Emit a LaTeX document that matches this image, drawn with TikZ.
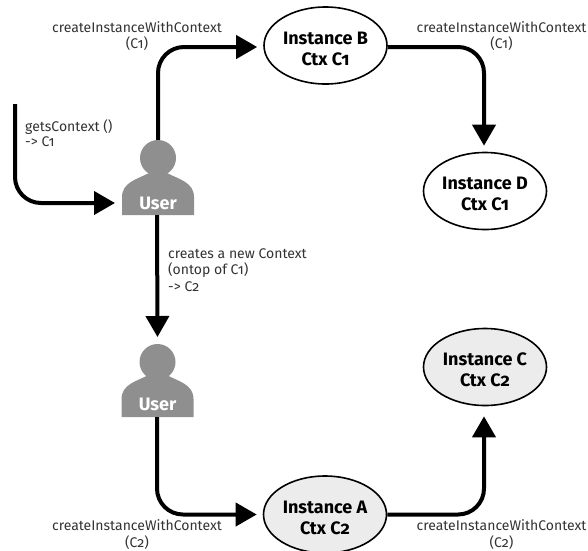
\documentclass[tikz,border=0pt]{standalone}
\usepackage{fontspec}
\setmainfont[Numbers=OldStyle]{Fira Sans}
\usetikzlibrary{shapes.geometric,arrows.meta}
\definecolor{usergray}{gray}{0.56}
\definecolor{instfill}{gray}{0.925}
\definecolor{lbl}{gray}{0.2}
\newcommand{\instpad}{\rule{0pt}{19pt}}
\tikzset{
 inst/.style={ellipse,draw=black,line width=1.6pt,fill=white,minimum width=123pt,minimum height=77pt,inner sep=0pt,align=center,font=\fontsize{18}{21}\selectfont\bfseries},
 instg/.style={inst,fill=instfill},
 lab/.style={align=center,text=lbl,font=\fontsize{14}{16.5}\selectfont,inner sep=0pt},
 labl/.style={lab,align=left},
 conn/.style={line width=4pt,-{Triangle[length=21pt,width=23pt]},rounded corners=26pt,shorten >=6pt},
 head/.style={circle,fill=usergray,minimum size=36pt,inner sep=0pt},
 utext/.style={text=white,inner sep=0pt,font=\fontsize{18}{20}\selectfont\bfseries},
 body/.pic={\fill[usergray] (-36,28) -- (-36,10) .. controls (-36,-5) and (-20,-8) .. (-9,-14) -- (9,-14) .. controls (20,-8) and (36,-5) .. (36,10) -- (36,28) -- cycle;}
}
\begin{document}
\begin{tikzpicture}[x=1pt,y=-1pt]
\useasboundingbox (0,0) rectangle (588,550);
\path[clip] (0,0) rectangle (588,550);
\node[inst] (b) at (325.5,45.5) {\instpad Instance B\\Ctx C1};
\node[inst] (d) at (485,191) {\instpad Instance D\\Ctx C1};
\node[instg] (c) at (485,367) {\instpad Instance C\\Ctx C2};
\node[instg] (a) at (325,514.5) {\instpad Instance A\\Ctx C2};
\pic at (158,187) {body};
\pic at (157.5,389) {body};
\node[head] (h1) at (158,158) {};
\node[head] (h2) at (157.5,362) {};
\node[utext] (u1) at (158,203) {User};
\node[utext] (u2) at (157.5,404) {User};
\coordinate (u1b) at (157,215);
\coordinate (u2b) at (157,417);
\coordinate (s) at (15,104);
\draw[conn] (h1.north) |- ([yshift=-1.5pt]b.west);
\draw[conn,shorten >=7pt] (s) |- (u1.west -| 122,203);
\draw[conn,shorten >=0pt] (u1b) -- (h2.north |- 0,337);
\draw[conn] (u2b) |- (a.west);
\draw[conn] ([yshift=-1.5pt]b.east) -| ([xshift=-1pt]d.north);
\draw[conn,shorten >=10pt] (a.east) -| ([xshift=-1pt]c.south);
\node[lab] (l1) at (137,36) {createInstanceWithContext\\(C1)};
\node[lab] (l2) at (501.5,36) {createInstanceWithContext\\(C1)};
\node[labl,anchor=west] (l3) at (25,133) {getsContext ()\\[-1pt] -> C1};
\node[labl,anchor=north west] (l4) at (168,248) {creates a new Context\\(ontop of C1)\\-> C2};
\node[lab] (l5) at (137,534.5) {createInstanceWithContext\\(C2)};
\node[lab] (l6) at (501.5,534.5) {createInstanceWithContext\\(C2)};
\end{tikzpicture}
\end{document}
